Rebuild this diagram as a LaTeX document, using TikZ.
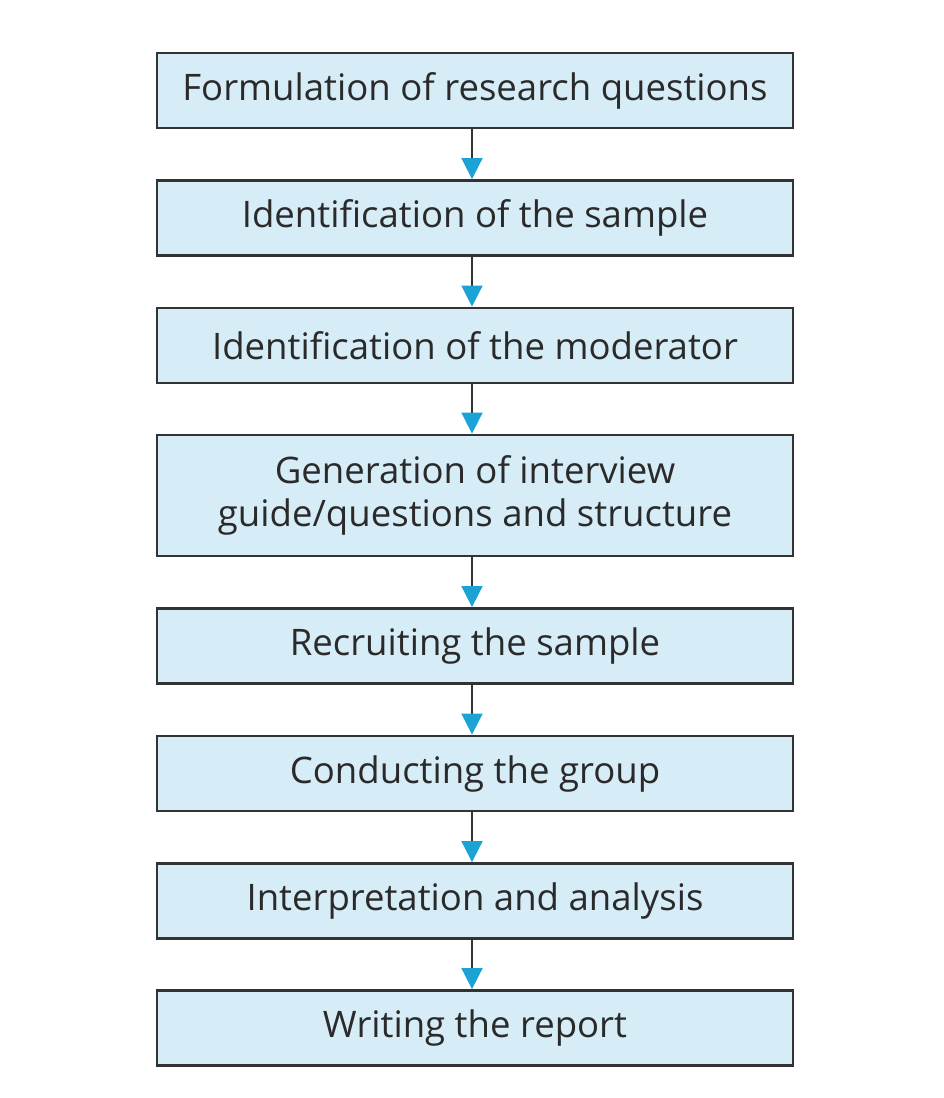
\documentclass[tikz,border=0pt]{standalone}
\usepackage{fontspec}
\setmainfont{Open Sans}
\usetikzlibrary{arrows.meta}
\definecolor{boxfill}{HTML}{D6ECF7}
\definecolor{boxline}{HTML}{333333}
\definecolor{tipblue}{HTML}{1BA3D6}
\definecolor{txt}{HTML}{2A2A2A}
\tikzset{
  stepbox/.style={draw=boxline, line width=1.6pt, fill=boxfill, minimum width=12.72cm, minimum height=1.5cm, inner sep=0pt, align=center, text=txt, font=\fontsize{20.8}{24.5}\selectfont},
  flow/.style={draw=boxline, line width=1pt, -{Triangle[length=0.42cm, width=0.42cm, color=tipblue]}}
}
\begin{document}
\begin{tikzpicture}[x=0.02cm,y=-0.02cm]
\path[fill=white] (0,0) rectangle (943,1098);
\useasboundingbox (0,0) rectangle (943,1098);
\node[stepbox] (b1) at (475,90.5) {Formulation of research questions};
\node[stepbox] (b2) at (475,218) {Identification of the sample};
\node[stepbox] (b3) at (475,345.5) {Identification of the moderator};
\node[stepbox, minimum height=2.42cm] (b4) at (475,495.5) {Generation of interview\\guide/questions and structure};
\node[stepbox] (b5) at (475,646) {Recruiting the sample};
\node[stepbox] (b6) at (475,773.5) {Conducting the group};
\node[stepbox] (b7) at (475,901) {Interpretation and analysis};
\node[stepbox] (b8) at (475,1028) {Writing the report};
\foreach \a/\b in {b1/b2,b2/b3,b3/b4,b4/b5,b5/b6,b6/b7,b7/b8}
  \draw[flow] ([xshift=-0.06cm]\a.south) -- ([xshift=-0.06cm]\b.north);
\end{tikzpicture}
\end{document}
